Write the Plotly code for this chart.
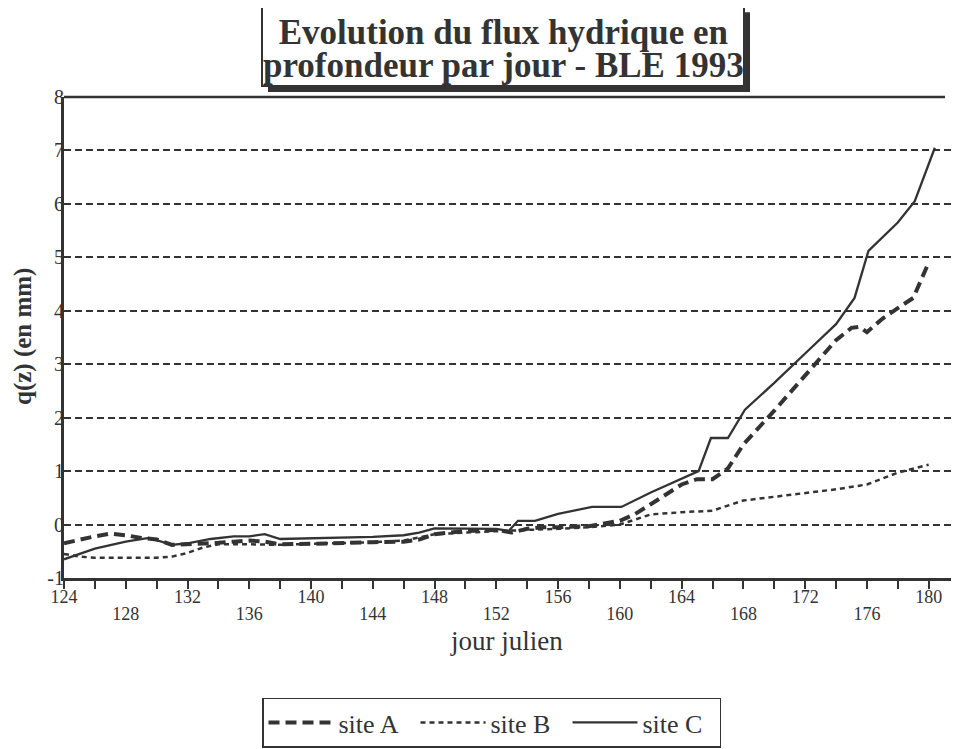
import plotly.graph_objects as go

# ---- data ----
days_A = [124, 125, 126, 127, 128, 129, 130, 131, 132, 133, 134, 135, 136, 137, 138, 140, 142, 144,
          146, 147, 148, 150, 152, 153, 154, 155, 156, 158, 160, 161, 162, 164, 165, 166, 167, 168,
          170, 172, 174, 175, 175.5, 176, 177, 178, 179, 180]
site_A = [-0.35, -0.28, -0.22, -0.17, -0.2, -0.25, -0.28, -0.38, -0.37, -0.36, -0.34, -0.32, -0.3,
          -0.32, -0.37, -0.36, -0.34, -0.33, -0.32, -0.28, -0.18, -0.12, -0.1, -0.15, -0.08, -0.05,
          -0.05, -0.03, 0.07, 0.2, 0.38, 0.75, 0.85, 0.85, 1.05, 1.5, 2.13, 2.8, 3.45, 3.68, 3.7,
          3.6, 3.85, 4.05, 4.24, 4.9]

days_B = [124, 125, 126, 128, 130, 131, 132, 133, 134, 136, 138, 140, 142, 144, 146, 148, 150, 152,
          154, 156, 158, 160, 162, 164, 166, 168, 170, 172, 174, 176, 178, 180]
site_B = [-0.55, -0.6, -0.62, -0.62, -0.62, -0.6, -0.53, -0.43, -0.37, -0.37, -0.38, -0.36, -0.35,
          -0.33, -0.3, -0.18, -0.15, -0.12, -0.1, -0.08, -0.05, 0.0, 0.19, 0.23, 0.26, 0.45, 0.52,
          0.6, 0.66, 0.75, 0.97, 1.12]

days_C = [124, 126, 128, 129.5, 131, 132, 133.5, 135, 136, 137, 138, 140, 142, 144, 146, 147, 148,
          150, 152, 152.8, 153.4, 154.5, 156, 158.2, 160.1, 162, 164, 165.1, 165.9, 167, 168.1, 170,
          172, 174, 175.2, 176.1, 178, 179.1, 180.4]
site_C = [-0.65, -0.45, -0.32, -0.25, -0.38, -0.35, -0.27, -0.22, -0.22, -0.18, -0.27, -0.26, -0.24,
          -0.23, -0.2, -0.15, -0.07, -0.08, -0.08, -0.12, 0.07, 0.07, 0.2, 0.33, 0.33, 0.6, 0.85,
          1.0, 1.62, 1.62, 2.15, 2.65, 3.2, 3.75, 4.24, 5.12, 5.65, 6.05, 7.05]

x_tickvals = list(range(124, 182, 2))                 # tick marks every 2 days
x_labels_upper = list(range(124, 181, 8))             # 124, 132, ... 180
x_labels_lower = list(range(128, 181, 8))             # 128, 136, ... 176
y_tickvals = [-1, 0, 1, 2, 3, 4, 5, 6, 7, 8]

title_lines = ["Evolution du flux hydrique en", "profondeur par jour - BLE 1993"]

INK = "#333333"
CLEAR = "rgba(0,0,0,0)"
FONT = "Liberation Serif"

# page body has an 8px margin: figure coords = screenshot coords - 8
OFF = 8
W, H = 959 - OFF, 749 - OFF
L, R, T, B = 64 - OFF, 958 - OFF, 97 - OFF, 580 - OFF
def px(x):
    return (x - OFF - L) / (R - L)
def py(y):
    return (B - (y - OFF)) / (B - T)

XR = [124, 181.9]
YR = [-1, 8]

fig = go.Figure()
fig.add_trace(go.Scatter(x=days_A, y=site_A, name="site A", mode="lines",
                         line=dict(color=INK, width=4, dash="11px,6px")))
fig.add_trace(go.Scatter(x=days_B, y=site_B, name="site B", mode="lines",
                         line=dict(color=INK, width=2.5, dash="5px,4px")))
fig.add_trace(go.Scatter(x=days_C, y=site_C, name="site C", mode="lines",
                         line=dict(color=INK, width=2.3)))
# empty traces so the label axes (staggered x rows, y labels hugging the axis) are drawn
fig.add_trace(go.Scatter(x=[], y=[], xaxis="x2", showlegend=False, hoverinfo="skip"))
fig.add_trace(go.Scatter(x=[], y=[], xaxis="x3", showlegend=False, hoverinfo="skip"))
fig.add_trace(go.Scatter(x=[], y=[], yaxis="y2", showlegend=False, hoverinfo="skip"))

tickfont = dict(size=18, family=FONT, color=INK)
fig.update_layout(
    width=W, height=H, autosize=False,
    margin=dict(l=L, r=W - R, t=T, b=H - B),
    paper_bgcolor="white", plot_bgcolor="white",
    font=dict(family=FONT, color=INK, size=18),
    showlegend=True,
    legend=dict(orientation="h", x=px(262), xanchor="left", y=py(700), yanchor="top",
                bordercolor=INK, borderwidth=1.5, font=dict(size=26, family=FONT, color=INK),
                itemwidth=65, entrywidth=72, entrywidthmode="pixels", tracegroupgap=0),
    xaxis=dict(range=XR, tickmode="array", tickvals=x_tickvals, showticklabels=False,
               ticks="outside", ticklen=8, tickwidth=2, tickcolor=INK,
               showline=True, linecolor=INK, linewidth=3, showgrid=False, zeroline=False),
    xaxis2=dict(range=XR, overlaying="x", side="bottom", anchor="y",
                tickmode="array", tickvals=x_labels_upper, ticktext=[str(v) for v in x_labels_upper],
                ticks="outside", ticklen=2, tickcolor=CLEAR, showline=False, showgrid=False,
                zeroline=False, tickfont=tickfont),
    xaxis3=dict(range=XR, overlaying="x", side="bottom", anchor="y",
                tickmode="array", tickvals=x_labels_lower, ticktext=[str(v) for v in x_labels_lower],
                ticks="outside", ticklen=19, tickcolor=CLEAR, showline=False, showgrid=False,
                zeroline=False, tickfont=tickfont),
    yaxis=dict(range=YR, tickmode="array", tickvals=y_tickvals, showticklabels=False,
               ticks="inside", ticklen=6, tickwidth=2, tickcolor=INK,
               showline=True, linecolor=INK, linewidth=2.5,
               showgrid=True, gridcolor=INK, gridwidth=2, griddash="7px,4px", zeroline=False),
    yaxis2=dict(range=YR, overlaying="y", side="left", anchor="free", position=0,
                tickmode="array", tickvals=y_tickvals, ticktext=[str(v) for v in y_tickvals],
                ticks="", showline=False, showgrid=False, zeroline=False,
                tickfont=dict(size=20, family=FONT, color=INK)),
)

shapes = [
    # top frame line
    dict(type="line", xref="paper", yref="paper", x0=0, x1=px(945), y0=1, y1=1,
         line=dict(color=INK, width=2.5)),
    # title box shadow and box
    dict(type="rect", xref="paper", yref="paper", x0=px(268), x1=px(750), y0=py(92), y1=py(12),
         fillcolor=INK, line=dict(color=INK, width=0)),
    dict(type="rect", xref="paper", yref="paper", x0=px(262), x1=px(744), y0=py(86), y1=py(6),
         fillcolor="white", line=dict(color=INK, width=2)),
]
fig.update_layout(shapes=shapes)

# title: line spacing follows the base size (25px -> ~33px), glyphs drawn at 35px
title_text = "<br>".join('<span style="font-size:35px"><b>%s</b></span>' % t for t in title_lines)
ann = [
    dict(text=title_text, x=px(503), y=py(49), xref="paper", yref="paper",
         showarrow=False, xanchor="center", yanchor="middle",
         font=dict(size=25, family=FONT, color=INK)),
    dict(text="<b>q(z) (en mm)</b>", x=px(23), y=py(338), xref="paper", yref="paper", textangle=-90,
         showarrow=False, xanchor="center", yanchor="middle", font=dict(size=25, family=FONT, color=INK)),
    dict(text="jour julien", x=px(506), y=py(643), xref="paper", yref="paper",
         showarrow=False, xanchor="center", yanchor="middle", font=dict(size=27, family=FONT, color=INK)),
]
fig.update_layout(annotations=ann)

fig.write_html("out.html")
